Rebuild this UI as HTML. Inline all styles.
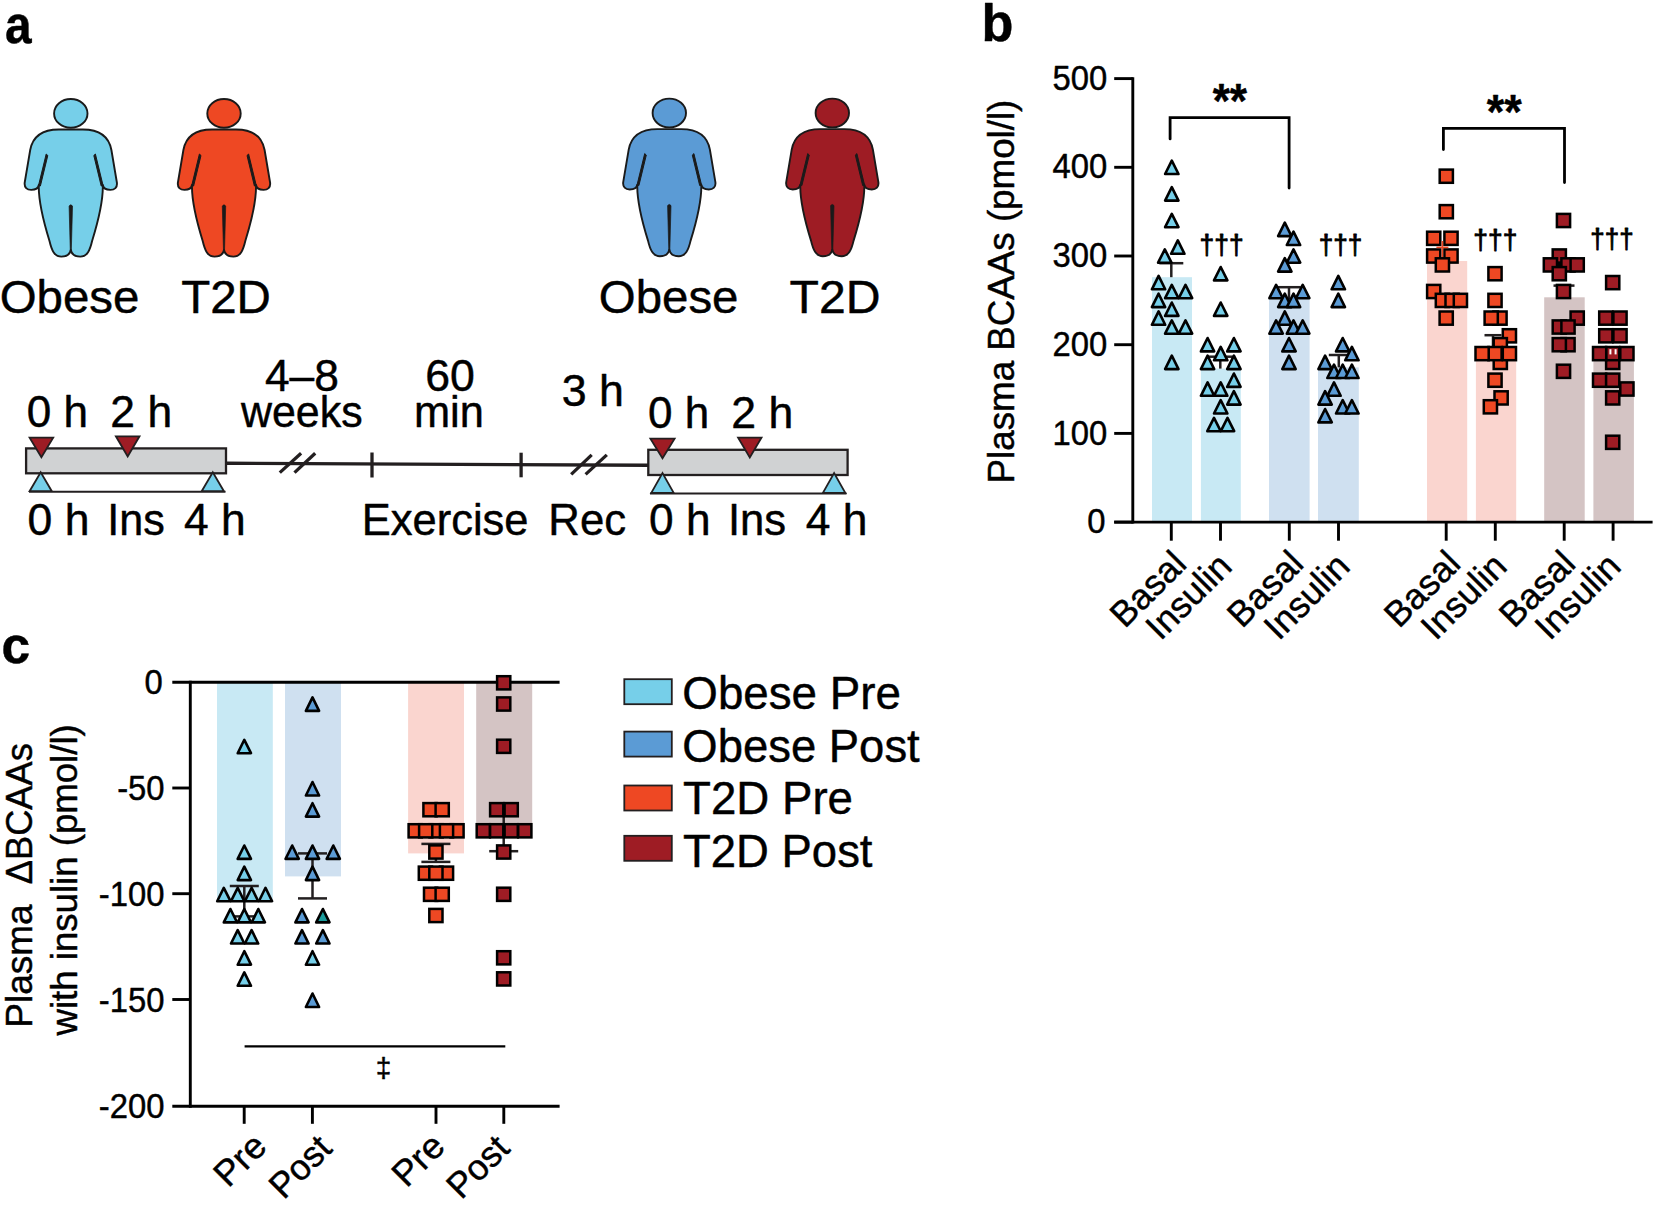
<!DOCTYPE html>
<html lang="en"><head><meta charset="utf-8"><title>Figure</title>
<style>
html,body{margin:0;padding:0;background:#fff;}
body{width:1654px;height:1207px;overflow:hidden;}
svg{display:block;font-family:"Liberation Sans", Arial, Helvetica, sans-serif;fill:#000;}
text{stroke:#000;stroke-width:0.45px;stroke-linejoin:round;}
</style></head><body>
<svg width="1654" height="1207" viewBox="0 0 1654 1207">
<rect width="1654" height="1207" fill="#fff"/>
<text transform="translate(4.90 43.2) scale(0.9197 1)" font-size="52" font-weight="bold" style="font-kerning:none">a</text>
<text transform="translate(981.56 41.2) scale(1.0037 1)" font-size="52" font-weight="bold" style="font-kerning:none">b</text>
<text transform="translate(1.49 663.2) scale(0.9895 1)" font-size="52" font-weight="bold" style="font-kerning:none">c</text>
<g transform="translate(70.8 0.0)"><path d="M0 129.5 L-12 129.5 C-28 129.5 -38 136 -40.6 150 L-46 182 C-47 187.6 -43.5 189.9 -39.6 189.9 C-35.3 189.9 -32.4 188 -32 185 C-32.4 200 -27.5 221 -21.3 241 C-19.2 250 -16.5 256.6 -9.5 256.6 C-4 256.6 -0.8 254 0 250 C0.8 254 4 256.6 9.5 256.6 C16.5 256.6 19.2 250 21.3 241 C27.5 221 32.4 200 32 185 C32.4 188 35.3 189.9 39.6 189.9 C43.5 189.9 47 187.6 46 182 L40.6 150 C38 136 28 129.5 12 129.5 Z" fill="#76cfe9" stroke="#1a1a1a" stroke-width="1.9" stroke-linejoin="round"/><ellipse cx="0" cy="113.4" rx="16.7" ry="14.4" fill="#76cfe9" stroke="#1a1a1a" stroke-width="1.9"/><path d="M-24.6 154 L-23 155.5 L-30.4 186 L-32.4 186 Z" fill="#1a1a1a" stroke="#1a1a1a" stroke-width="1" stroke-linejoin="round"/><path d="M24.6 154 L23 155.5 L30.4 186 L32.4 186 Z" fill="#1a1a1a" stroke="#1a1a1a" stroke-width="1" stroke-linejoin="round"/><path d="M-1.7 206 Q0 203.6 1.7 206 L0.5 251 L-0.5 251 Z" fill="#1a1a1a" stroke="#1a1a1a" stroke-width="0.7" stroke-linejoin="round"/></g>
<g transform="translate(224 0.0)"><path d="M0 129.5 L-12 129.5 C-28 129.5 -38 136 -40.6 150 L-46 182 C-47 187.6 -43.5 189.9 -39.6 189.9 C-35.3 189.9 -32.4 188 -32 185 C-32.4 200 -27.5 221 -21.3 241 C-19.2 250 -16.5 256.6 -9.5 256.6 C-4 256.6 -0.8 254 0 250 C0.8 254 4 256.6 9.5 256.6 C16.5 256.6 19.2 250 21.3 241 C27.5 221 32.4 200 32 185 C32.4 188 35.3 189.9 39.6 189.9 C43.5 189.9 47 187.6 46 182 L40.6 150 C38 136 28 129.5 12 129.5 Z" fill="#ee4823" stroke="#1a1a1a" stroke-width="1.9" stroke-linejoin="round"/><ellipse cx="0" cy="113.4" rx="16.7" ry="14.4" fill="#ee4823" stroke="#1a1a1a" stroke-width="1.9"/><path d="M-24.6 154 L-23 155.5 L-30.4 186 L-32.4 186 Z" fill="#1a1a1a" stroke="#1a1a1a" stroke-width="1" stroke-linejoin="round"/><path d="M24.6 154 L23 155.5 L30.4 186 L32.4 186 Z" fill="#1a1a1a" stroke="#1a1a1a" stroke-width="1" stroke-linejoin="round"/><path d="M-1.7 206 Q0 203.6 1.7 206 L0.5 251 L-0.5 251 Z" fill="#1a1a1a" stroke="#1a1a1a" stroke-width="0.7" stroke-linejoin="round"/></g>
<g transform="translate(669.3 -0.4)"><path d="M0 129.5 L-12 129.5 C-28 129.5 -38 136 -40.6 150 L-46 182 C-47 187.6 -43.5 189.9 -39.6 189.9 C-35.3 189.9 -32.4 188 -32 185 C-32.4 200 -27.5 221 -21.3 241 C-19.2 250 -16.5 256.6 -9.5 256.6 C-4 256.6 -0.8 254 0 250 C0.8 254 4 256.6 9.5 256.6 C16.5 256.6 19.2 250 21.3 241 C27.5 221 32.4 200 32 185 C32.4 188 35.3 189.9 39.6 189.9 C43.5 189.9 47 187.6 46 182 L40.6 150 C38 136 28 129.5 12 129.5 Z" fill="#5b9bd5" stroke="#1a1a1a" stroke-width="1.9" stroke-linejoin="round"/><ellipse cx="0" cy="113.4" rx="16.7" ry="14.4" fill="#5b9bd5" stroke="#1a1a1a" stroke-width="1.9"/><path d="M-24.6 154 L-23 155.5 L-30.4 186 L-32.4 186 Z" fill="#1a1a1a" stroke="#1a1a1a" stroke-width="1" stroke-linejoin="round"/><path d="M24.6 154 L23 155.5 L30.4 186 L32.4 186 Z" fill="#1a1a1a" stroke="#1a1a1a" stroke-width="1" stroke-linejoin="round"/><path d="M-1.7 206 Q0 203.6 1.7 206 L0.5 251 L-0.5 251 Z" fill="#1a1a1a" stroke="#1a1a1a" stroke-width="0.7" stroke-linejoin="round"/></g>
<g transform="translate(832.3 -0.4)"><path d="M0 129.5 L-12 129.5 C-28 129.5 -38 136 -40.6 150 L-46 182 C-47 187.6 -43.5 189.9 -39.6 189.9 C-35.3 189.9 -32.4 188 -32 185 C-32.4 200 -27.5 221 -21.3 241 C-19.2 250 -16.5 256.6 -9.5 256.6 C-4 256.6 -0.8 254 0 250 C0.8 254 4 256.6 9.5 256.6 C16.5 256.6 19.2 250 21.3 241 C27.5 221 32.4 200 32 185 C32.4 188 35.3 189.9 39.6 189.9 C43.5 189.9 47 187.6 46 182 L40.6 150 C38 136 28 129.5 12 129.5 Z" fill="#9e1c24" stroke="#1a1a1a" stroke-width="1.9" stroke-linejoin="round"/><ellipse cx="0" cy="113.4" rx="16.7" ry="14.4" fill="#9e1c24" stroke="#1a1a1a" stroke-width="1.9"/><path d="M-24.6 154 L-23 155.5 L-30.4 186 L-32.4 186 Z" fill="#1a1a1a" stroke="#1a1a1a" stroke-width="1" stroke-linejoin="round"/><path d="M24.6 154 L23 155.5 L30.4 186 L32.4 186 Z" fill="#1a1a1a" stroke="#1a1a1a" stroke-width="1" stroke-linejoin="round"/><path d="M-1.7 206 Q0 203.6 1.7 206 L0.5 251 L-0.5 251 Z" fill="#1a1a1a" stroke="#1a1a1a" stroke-width="0.7" stroke-linejoin="round"/></g>
<text transform="translate(-0.35 312.7) scale(1.0092 1)" font-size="47" font-weight="normal" style="font-kerning:none">Obese</text>
<text transform="translate(181.13 312.7) scale(1.0107 1)" font-size="47" font-weight="normal" style="font-kerning:none">T2D</text>
<text transform="translate(598.86 312.6) scale(1.0085 1)" font-size="47" font-weight="normal" style="font-kerning:none">Obese</text>
<text transform="translate(789.52 312.6) scale(1.0247 1)" font-size="47" font-weight="normal" style="font-kerning:none">T2D</text>
<line x1="226.7" y1="463.2" x2="648.0" y2="465.3" stroke="#231f20" stroke-width="3.4" stroke-linecap="butt"/>
<rect x="26.1" y="448.4" width="199.9" height="24.9" fill="#d0d2d3" stroke="#231f20" stroke-width="2.3"/>
<rect x="648.3" y="449.8" width="199.3" height="25.2" fill="#d0d2d3" stroke="#231f20" stroke-width="2.3"/>
<line x1="29.0" y1="491.8" x2="225.5" y2="491.8" stroke="#231f20" stroke-width="2.0" stroke-linecap="butt"/>
<path d="M29.6 437.7L53.2 437.7L41.4 457.2Z" fill="#9e1c24" stroke="#231f20" stroke-width="1.8" stroke-linejoin="miter"/>
<path d="M115.9 436.3L139.5 436.3L127.7 456.5Z" fill="#9e1c24" stroke="#231f20" stroke-width="1.8" stroke-linejoin="miter"/>
<path d="M29.6 491.2L51.8 491.2L40.7 472.2Z" fill="#76cfe9" stroke="#231f20" stroke-width="1.8" stroke-linejoin="miter"/>
<path d="M201.7 491.2L223.9 491.2L212.8 472.2Z" fill="#76cfe9" stroke="#231f20" stroke-width="1.8" stroke-linejoin="miter"/>
<line x1="650.0" y1="493.5" x2="846.5" y2="493.5" stroke="#231f20" stroke-width="2.0" stroke-linecap="butt"/>
<path d="M650.4 438.6L674.6 438.6L662.5 458.3Z" fill="#9e1c24" stroke="#231f20" stroke-width="1.8" stroke-linejoin="miter"/>
<path d="M738.1 437.7L761.5 437.7L749.8 457.4Z" fill="#9e1c24" stroke="#231f20" stroke-width="1.8" stroke-linejoin="miter"/>
<path d="M651.2 493L673.8 493L662.5 473Z" fill="#76cfe9" stroke="#231f20" stroke-width="1.8" stroke-linejoin="miter"/>
<path d="M822.8 493L845.4 493L834.1 473Z" fill="#76cfe9" stroke="#231f20" stroke-width="1.8" stroke-linejoin="miter"/>
<line x1="279.8" y1="472.6" x2="301.1" y2="453.3" stroke="#231f20" stroke-width="3.3" stroke-linecap="butt"/>
<line x1="294.5" y1="472.6" x2="315.2" y2="453.3" stroke="#231f20" stroke-width="3.3" stroke-linecap="butt"/>
<line x1="571.2" y1="474.4" x2="591.7" y2="454.9" stroke="#231f20" stroke-width="3.3" stroke-linecap="butt"/>
<line x1="585.6" y1="474.4" x2="606.8" y2="454.9" stroke="#231f20" stroke-width="3.3" stroke-linecap="butt"/>
<line x1="372.0" y1="452.5" x2="372.0" y2="477.5" stroke="#231f20" stroke-width="3.3" stroke-linecap="butt"/>
<line x1="521.1" y1="452.7" x2="521.1" y2="477.3" stroke="#231f20" stroke-width="3.3" stroke-linecap="butt"/>
<text transform="translate(26.78 427.3) scale(1.0019 1)" font-size="44" font-weight="normal" style="font-kerning:none">0 h</text>
<text transform="translate(110.36 427.3) scale(1.0108 1)" font-size="44" font-weight="normal" style="font-kerning:none">2 h</text>
<text transform="translate(264.98 390.6) scale(1.0072 1)" font-size="44" font-weight="normal" style="font-kerning:none">4–8</text>
<text transform="translate(240.96 427.3) scale(0.9757 1)" font-size="44" font-weight="normal" style="font-kerning:none">weeks</text>
<text transform="translate(425.24 390.6) scale(1.0136 1)" font-size="44" font-weight="normal" style="font-kerning:none">60</text>
<text transform="translate(413.92 427.3) scale(0.9859 1)" font-size="44" font-weight="normal" style="font-kerning:none">min</text>
<text transform="translate(561.80 406.0) scale(1.0171 1)" font-size="44" font-weight="normal" style="font-kerning:none">3 h</text>
<text transform="translate(648.08 428.0) scale(1.0002 1)" font-size="44" font-weight="normal" style="font-kerning:none">0 h</text>
<text transform="translate(731.36 428.0) scale(1.0143 1)" font-size="44" font-weight="normal" style="font-kerning:none">2 h</text>
<text transform="translate(27.56 534.8) scale(1.0125 1)" font-size="44" font-weight="normal" style="font-kerning:none">0 h</text>
<text transform="translate(107.32 534.8) scale(0.9803 1)" font-size="44" font-weight="normal" style="font-kerning:none">Ins</text>
<text transform="translate(183.88 534.8) scale(1.0087 1)" font-size="44" font-weight="normal" style="font-kerning:none">4 h</text>
<text transform="translate(361.83 535.0) scale(0.9880 1)" font-size="44" font-weight="normal" style="font-kerning:none">Exercise</text>
<text transform="translate(548.31 535.0) scale(0.9949 1)" font-size="44" font-weight="normal" style="font-kerning:none">Rec</text>
<text transform="translate(649.07 535.4) scale(1.0037 1)" font-size="44" font-weight="normal" style="font-kerning:none">0 h</text>
<text transform="translate(727.97 535.4) scale(0.9916 1)" font-size="44" font-weight="normal" style="font-kerning:none">Ins</text>
<text transform="translate(805.68 535.4) scale(1.0087 1)" font-size="44" font-weight="normal" style="font-kerning:none">4 h</text>
<rect x="1152" y="277.2" width="40.0" height="244.9" fill="#c8e9f4"/>
<rect x="1200.9" y="368.6" width="39.9" height="153.5" fill="#c8e9f4"/>
<rect x="1269" y="299" width="40.6" height="223.1" fill="#cfe0f0"/>
<rect x="1318" y="367.4" width="40.8" height="154.7" fill="#cfe0f0"/>
<rect x="1427" y="261" width="40.2" height="261.1" fill="#fad5cf"/>
<rect x="1475.9" y="355" width="40.3" height="167.1" fill="#fad5cf"/>
<rect x="1544.2" y="297.3" width="40.5" height="224.8" fill="#d4c4c4"/>
<rect x="1593.4" y="354" width="40.5" height="168.1" fill="#d4c4c4"/>
<line x1="1132.8" y1="77.2" x2="1132.8" y2="523.6" stroke="#000" stroke-width="2.9" stroke-linecap="butt"/>
<line x1="1114.2" y1="522.1" x2="1652.6" y2="522.1" stroke="#000" stroke-width="2.9" stroke-linecap="butt"/>
<line x1="1114.2" y1="522.1" x2="1132.8" y2="522.1" stroke="#000" stroke-width="2.9" stroke-linecap="butt"/>
<text transform="translate(1087.32 533.2) scale(0.9517 1)" font-size="34.5" font-weight="normal" style="font-kerning:none">0</text>
<line x1="1114.2" y1="433.4" x2="1132.8" y2="433.4" stroke="#000" stroke-width="2.9" stroke-linecap="butt"/>
<text transform="translate(1052.40 444.5) scale(0.9517 1)" font-size="34.5" font-weight="normal" style="font-kerning:none">100</text>
<line x1="1114.2" y1="344.7" x2="1132.8" y2="344.7" stroke="#000" stroke-width="2.9" stroke-linecap="butt"/>
<text transform="translate(1052.40 355.8) scale(0.9517 1)" font-size="34.5" font-weight="normal" style="font-kerning:none">200</text>
<line x1="1114.2" y1="256.0" x2="1132.8" y2="256.0" stroke="#000" stroke-width="2.9" stroke-linecap="butt"/>
<text transform="translate(1052.40 267.1) scale(0.9517 1)" font-size="34.5" font-weight="normal" style="font-kerning:none">300</text>
<line x1="1114.2" y1="167.3" x2="1132.8" y2="167.3" stroke="#000" stroke-width="2.9" stroke-linecap="butt"/>
<text transform="translate(1052.40 178.4) scale(0.9517 1)" font-size="34.5" font-weight="normal" style="font-kerning:none">400</text>
<line x1="1114.2" y1="78.6" x2="1132.8" y2="78.6" stroke="#000" stroke-width="2.9" stroke-linecap="butt"/>
<text transform="translate(1052.40 89.7) scale(0.9517 1)" font-size="34.5" font-weight="normal" style="font-kerning:none">500</text>
<line x1="1171.3" y1="522.1" x2="1171.3" y2="540.7" stroke="#000" stroke-width="2.9" stroke-linecap="butt"/>
<line x1="1220.5" y1="522.1" x2="1220.5" y2="540.7" stroke="#000" stroke-width="2.9" stroke-linecap="butt"/>
<line x1="1289.3" y1="522.1" x2="1289.3" y2="540.7" stroke="#000" stroke-width="2.9" stroke-linecap="butt"/>
<line x1="1338.5" y1="522.1" x2="1338.5" y2="540.7" stroke="#000" stroke-width="2.9" stroke-linecap="butt"/>
<line x1="1446.2" y1="522.1" x2="1446.2" y2="540.7" stroke="#000" stroke-width="2.9" stroke-linecap="butt"/>
<line x1="1495.3" y1="522.1" x2="1495.3" y2="540.7" stroke="#000" stroke-width="2.9" stroke-linecap="butt"/>
<line x1="1564.2" y1="522.1" x2="1564.2" y2="540.7" stroke="#000" stroke-width="2.9" stroke-linecap="butt"/>
<line x1="1613.1" y1="522.1" x2="1613.1" y2="540.7" stroke="#000" stroke-width="2.9" stroke-linecap="butt"/>
<text transform="translate(1124.84 629.36) rotate(-45.00) scale(0.9966 1)" font-size="36" font-weight="normal" style="font-kerning:none">Basal</text>
<text transform="translate(1242.04 629.16) rotate(-45.00) scale(0.9966 1)" font-size="36" font-weight="normal" style="font-kerning:none">Basal</text>
<text transform="translate(1398.94 629.16) rotate(-45.00) scale(0.9966 1)" font-size="36" font-weight="normal" style="font-kerning:none">Basal</text>
<text transform="translate(1513.94 629.16) rotate(-45.00) scale(0.9966 1)" font-size="36" font-weight="normal" style="font-kerning:none">Basal</text>
<text transform="translate(1160.61 641.59) rotate(-45.00) scale(0.9939 1)" font-size="36" font-weight="normal" style="font-kerning:none">Insulin</text>
<text transform="translate(1278.81 641.59) rotate(-45.00) scale(0.9939 1)" font-size="36" font-weight="normal" style="font-kerning:none">Insulin</text>
<text transform="translate(1435.71 641.59) rotate(-45.00) scale(0.9939 1)" font-size="36" font-weight="normal" style="font-kerning:none">Insulin</text>
<text transform="translate(1549.71 641.59) rotate(-45.00) scale(0.9939 1)" font-size="36" font-weight="normal" style="font-kerning:none">Insulin</text>
<text transform="translate(1013.60 483.41) rotate(-90.00) scale(0.9932 1)" font-size="37" font-weight="normal" style="font-kerning:none">Plasma BCAAs (pmol/l)</text>
<path d="M1170.1 138.9V117.6H1289.1V188.1" fill="none" stroke="#000" stroke-width="2.8" stroke-linecap="round" stroke-linejoin="miter"/>
<path d="M1443.4 149.5V128.4H1564.5V182.6" fill="none" stroke="#000" stroke-width="2.8" stroke-linecap="round" stroke-linejoin="miter"/>
<text transform="translate(1212.67 117.2) scale(0.9201 1)" font-size="48" font-weight="bold" style="font-kerning:none">**</text>
<text transform="translate(1486.87 127.9) scale(0.9362 1)" font-size="48" font-weight="bold" style="font-kerning:none">**</text>
<text transform="translate(1199.62 253.9) scale(0.9428 1)" font-size="28" font-weight="normal" style="stroke-width:0.9px;font-kerning:none">†††</text>
<text transform="translate(1318.63 253.9) scale(0.9358 1)" font-size="28" font-weight="normal" style="stroke-width:0.9px;font-kerning:none">†††</text>
<text transform="translate(1473.32 249.0) scale(0.9428 1)" font-size="28" font-weight="normal" style="stroke-width:0.9px;font-kerning:none">†††</text>
<text transform="translate(1590.35 248.4) scale(0.9265 1)" font-size="28" font-weight="normal" style="stroke-width:0.9px;font-kerning:none">†††</text>
<line x1="1171.3" y1="263.2" x2="1171.3" y2="277.2" stroke="#231f20" stroke-width="2.5" stroke-linecap="butt"/><line x1="1159.3" y1="263.2" x2="1183.3" y2="263.2" stroke="#231f20" stroke-width="2.5" stroke-linecap="butt"/>
<path d="M1165.1 174.0L1171.8 160.6L1178.5 174.0Z" fill="#76cfe9" stroke="#000" stroke-width="2.6" stroke-linejoin="round"/>
<path d="M1165.1 200.6L1171.8 187.2L1178.5 200.6Z" fill="#76cfe9" stroke="#000" stroke-width="2.6" stroke-linejoin="round"/>
<path d="M1165.1 227.2L1171.8 213.8L1178.5 227.2Z" fill="#76cfe9" stroke="#000" stroke-width="2.6" stroke-linejoin="round"/>
<path d="M1158.1 262.7L1164.8 249.3L1171.5 262.7Z" fill="#76cfe9" stroke="#000" stroke-width="2.6" stroke-linejoin="round"/>
<path d="M1171.1 253.8L1177.8 240.4L1184.5 253.8Z" fill="#76cfe9" stroke="#000" stroke-width="2.6" stroke-linejoin="round"/>
<path d="M1151.9 289.3L1158.6 275.9L1165.2 289.3Z" fill="#76cfe9" stroke="#000" stroke-width="2.6" stroke-linejoin="round"/>
<path d="M1165.1 298.2L1171.8 284.8L1178.5 298.2Z" fill="#76cfe9" stroke="#000" stroke-width="2.6" stroke-linejoin="round"/>
<path d="M1178.8 298.2L1185.5 284.8L1192.2 298.2Z" fill="#76cfe9" stroke="#000" stroke-width="2.6" stroke-linejoin="round"/>
<path d="M1151.9 307.1L1158.6 293.7L1165.2 307.1Z" fill="#76cfe9" stroke="#000" stroke-width="2.6" stroke-linejoin="round"/>
<path d="M1165.1 315.9L1171.8 302.5L1178.5 315.9Z" fill="#76cfe9" stroke="#000" stroke-width="2.6" stroke-linejoin="round"/>
<path d="M1151.9 324.8L1158.6 311.4L1165.2 324.8Z" fill="#76cfe9" stroke="#000" stroke-width="2.6" stroke-linejoin="round"/>
<path d="M1165.1 333.7L1171.8 320.3L1178.5 333.7Z" fill="#76cfe9" stroke="#000" stroke-width="2.6" stroke-linejoin="round"/>
<path d="M1178.8 333.7L1185.5 320.3L1192.2 333.7Z" fill="#76cfe9" stroke="#000" stroke-width="2.6" stroke-linejoin="round"/>
<path d="M1165.1 369.1L1171.8 355.7L1178.5 369.1Z" fill="#76cfe9" stroke="#000" stroke-width="2.6" stroke-linejoin="round"/>
<line x1="1220.3" y1="356.7" x2="1220.3" y2="368.6" stroke="#231f20" stroke-width="2.5" stroke-linecap="butt"/><line x1="1207.8" y1="356.7" x2="1232.8" y2="356.7" stroke="#231f20" stroke-width="2.5" stroke-linecap="butt"/>
<path d="M1214.0 280.4L1220.7 267.0L1227.4 280.4Z" fill="#76cfe9" stroke="#000" stroke-width="2.6" stroke-linejoin="round"/>
<path d="M1214.0 315.9L1220.7 302.5L1227.4 315.9Z" fill="#76cfe9" stroke="#000" stroke-width="2.6" stroke-linejoin="round"/>
<path d="M1200.9 351.4L1207.6 338.0L1214.2 351.4Z" fill="#76cfe9" stroke="#000" stroke-width="2.6" stroke-linejoin="round"/>
<path d="M1227.2 351.4L1233.9 338.0L1240.6 351.4Z" fill="#76cfe9" stroke="#000" stroke-width="2.6" stroke-linejoin="round"/>
<path d="M1200.9 369.1L1207.6 355.7L1214.2 369.1Z" fill="#76cfe9" stroke="#000" stroke-width="2.6" stroke-linejoin="round"/>
<path d="M1227.2 369.1L1233.9 355.7L1240.6 369.1Z" fill="#76cfe9" stroke="#000" stroke-width="2.6" stroke-linejoin="round"/>
<path d="M1214.0 360.3L1220.7 346.9L1227.4 360.3Z" fill="#76cfe9" stroke="#000" stroke-width="2.6" stroke-linejoin="round"/>
<path d="M1227.2 386.9L1233.9 373.5L1240.6 386.9Z" fill="#76cfe9" stroke="#000" stroke-width="2.6" stroke-linejoin="round"/>
<path d="M1200.9 395.8L1207.6 382.4L1214.2 395.8Z" fill="#76cfe9" stroke="#000" stroke-width="2.6" stroke-linejoin="round"/>
<path d="M1214.0 395.8L1220.7 382.4L1227.4 395.8Z" fill="#76cfe9" stroke="#000" stroke-width="2.6" stroke-linejoin="round"/>
<path d="M1227.2 404.6L1233.9 391.2L1240.6 404.6Z" fill="#76cfe9" stroke="#000" stroke-width="2.6" stroke-linejoin="round"/>
<path d="M1214.0 413.5L1220.7 400.1L1227.4 413.5Z" fill="#76cfe9" stroke="#000" stroke-width="2.6" stroke-linejoin="round"/>
<path d="M1207.3 431.2L1214.0 417.8L1220.7 431.2Z" fill="#76cfe9" stroke="#000" stroke-width="2.6" stroke-linejoin="round"/>
<path d="M1220.8 431.2L1227.5 417.8L1234.2 431.2Z" fill="#76cfe9" stroke="#000" stroke-width="2.6" stroke-linejoin="round"/>
<line x1="1289.0" y1="287.2" x2="1289.0" y2="299.0" stroke="#231f20" stroke-width="2.5" stroke-linecap="butt"/><line x1="1277.2" y1="287.2" x2="1300.8" y2="287.2" stroke="#231f20" stroke-width="2.5" stroke-linecap="butt"/>
<path d="M1278.1 236.1L1284.8 222.7L1291.5 236.1Z" fill="#5b9bd5" stroke="#000" stroke-width="2.6" stroke-linejoin="round"/>
<path d="M1286.8 245.0L1293.5 231.6L1300.2 245.0Z" fill="#5b9bd5" stroke="#000" stroke-width="2.6" stroke-linejoin="round"/>
<path d="M1286.8 262.7L1293.5 249.3L1300.2 262.7Z" fill="#5b9bd5" stroke="#000" stroke-width="2.6" stroke-linejoin="round"/>
<path d="M1278.1 271.6L1284.8 258.2L1291.5 271.6Z" fill="#5b9bd5" stroke="#000" stroke-width="2.6" stroke-linejoin="round"/>
<path d="M1269.4 298.2L1276.1 284.8L1282.8 298.2Z" fill="#5b9bd5" stroke="#000" stroke-width="2.6" stroke-linejoin="round"/>
<path d="M1296.0 298.2L1302.7 284.8L1309.4 298.2Z" fill="#5b9bd5" stroke="#000" stroke-width="2.6" stroke-linejoin="round"/>
<path d="M1278.1 307.1L1284.8 293.7L1291.5 307.1Z" fill="#5b9bd5" stroke="#000" stroke-width="2.6" stroke-linejoin="round"/>
<path d="M1286.8 307.1L1293.5 293.7L1300.2 307.1Z" fill="#5b9bd5" stroke="#000" stroke-width="2.6" stroke-linejoin="round"/>
<path d="M1278.1 324.8L1284.8 311.4L1291.5 324.8Z" fill="#5b9bd5" stroke="#000" stroke-width="2.6" stroke-linejoin="round"/>
<path d="M1269.4 333.7L1276.1 320.3L1282.8 333.7Z" fill="#5b9bd5" stroke="#000" stroke-width="2.6" stroke-linejoin="round"/>
<path d="M1286.8 333.7L1293.5 320.3L1300.2 333.7Z" fill="#5b9bd5" stroke="#000" stroke-width="2.6" stroke-linejoin="round"/>
<path d="M1296.0 333.7L1302.7 320.3L1309.4 333.7Z" fill="#5b9bd5" stroke="#000" stroke-width="2.6" stroke-linejoin="round"/>
<path d="M1282.3 351.4L1289.0 338.0L1295.7 351.4Z" fill="#5b9bd5" stroke="#000" stroke-width="2.6" stroke-linejoin="round"/>
<path d="M1282.3 369.1L1289.0 355.7L1295.7 369.1Z" fill="#5b9bd5" stroke="#000" stroke-width="2.6" stroke-linejoin="round"/>
<line x1="1338.8" y1="355.0" x2="1338.8" y2="367.4" stroke="#231f20" stroke-width="2.5" stroke-linecap="butt"/><line x1="1328.8" y1="355.0" x2="1348.8" y2="355.0" stroke="#231f20" stroke-width="2.5" stroke-linecap="butt"/>
<path d="M1331.6 289.3L1338.3 275.9L1345.0 289.3Z" fill="#5b9bd5" stroke="#000" stroke-width="2.6" stroke-linejoin="round"/>
<path d="M1331.6 307.1L1338.3 293.7L1345.0 307.1Z" fill="#5b9bd5" stroke="#000" stroke-width="2.6" stroke-linejoin="round"/>
<path d="M1336.0 351.4L1342.7 338.0L1349.4 351.4Z" fill="#5b9bd5" stroke="#000" stroke-width="2.6" stroke-linejoin="round"/>
<path d="M1345.2 360.3L1351.9 346.9L1358.6 360.3Z" fill="#5b9bd5" stroke="#000" stroke-width="2.6" stroke-linejoin="round"/>
<path d="M1318.4 369.1L1325.1 355.7L1331.8 369.1Z" fill="#5b9bd5" stroke="#000" stroke-width="2.6" stroke-linejoin="round"/>
<path d="M1327.3 378.0L1334.0 364.6L1340.7 378.0Z" fill="#5b9bd5" stroke="#000" stroke-width="2.6" stroke-linejoin="round"/>
<path d="M1336.0 378.0L1342.7 364.6L1349.4 378.0Z" fill="#5b9bd5" stroke="#000" stroke-width="2.6" stroke-linejoin="round"/>
<path d="M1345.2 378.0L1351.9 364.6L1358.6 378.0Z" fill="#5b9bd5" stroke="#000" stroke-width="2.6" stroke-linejoin="round"/>
<path d="M1327.3 395.8L1334.0 382.4L1340.7 395.8Z" fill="#5b9bd5" stroke="#000" stroke-width="2.6" stroke-linejoin="round"/>
<path d="M1318.4 404.6L1325.1 391.2L1331.8 404.6Z" fill="#5b9bd5" stroke="#000" stroke-width="2.6" stroke-linejoin="round"/>
<path d="M1336.0 413.5L1342.7 400.1L1349.4 413.5Z" fill="#5b9bd5" stroke="#000" stroke-width="2.6" stroke-linejoin="round"/>
<path d="M1345.2 413.5L1351.9 400.1L1358.6 413.5Z" fill="#5b9bd5" stroke="#000" stroke-width="2.6" stroke-linejoin="round"/>
<path d="M1318.4 422.4L1325.1 409.0L1331.8 422.4Z" fill="#5b9bd5" stroke="#000" stroke-width="2.6" stroke-linejoin="round"/>
<rect x="1439.7" y="169.6" width="13.2" height="13.2" fill="#ee4823" stroke="#000" stroke-width="2.5"/>
<rect x="1439.7" y="205.1" width="13.2" height="13.2" fill="#ee4823" stroke="#000" stroke-width="2.5"/>
<rect x="1427.1" y="231.7" width="13.2" height="13.2" fill="#ee4823" stroke="#000" stroke-width="2.5"/>
<rect x="1444.4" y="231.7" width="13.2" height="13.2" fill="#ee4823" stroke="#000" stroke-width="2.5"/>
<rect x="1427.1" y="249.4" width="13.2" height="13.2" fill="#ee4823" stroke="#000" stroke-width="2.5"/>
<rect x="1444.4" y="249.4" width="13.2" height="13.2" fill="#ee4823" stroke="#000" stroke-width="2.5"/>
<line x1="1442.4" y1="247.4" x2="1442.4" y2="261.0" stroke="#ee4823" stroke-width="1.6" stroke-linecap="butt"/><line x1="1436.4" y1="247.4" x2="1448.4" y2="247.4" stroke="#ee4823" stroke-width="1.6" stroke-linecap="butt"/>
<line x1="1442.4" y1="241.0" x2="1442.4" y2="248.0" stroke="#ee4823" stroke-width="1.6" stroke-linecap="butt"/>
<rect x="1435.8" y="258.3" width="13.2" height="13.2" fill="#ee4823" stroke="#000" stroke-width="2.5"/>
<rect x="1427.1" y="284.9" width="13.2" height="13.2" fill="#ee4823" stroke="#000" stroke-width="2.5"/>
<rect x="1435.8" y="293.8" width="13.2" height="13.2" fill="#ee4823" stroke="#000" stroke-width="2.5"/>
<rect x="1445.5" y="293.8" width="13.2" height="13.2" fill="#ee4823" stroke="#000" stroke-width="2.5"/>
<rect x="1453.8" y="293.8" width="13.2" height="13.2" fill="#ee4823" stroke="#000" stroke-width="2.5"/>
<rect x="1439.6" y="311.5" width="13.2" height="13.2" fill="#ee4823" stroke="#000" stroke-width="2.5"/>
<line x1="1493.0" y1="335.2" x2="1493.0" y2="355.0" stroke="#231f20" stroke-width="2.5" stroke-linecap="butt"/><line x1="1484.5" y1="335.2" x2="1501.5" y2="335.2" stroke="#231f20" stroke-width="2.5" stroke-linecap="butt"/>
<rect x="1488.4" y="267.1" width="13.2" height="13.2" fill="#ee4823" stroke="#000" stroke-width="2.5"/>
<rect x="1488.4" y="293.8" width="13.2" height="13.2" fill="#ee4823" stroke="#000" stroke-width="2.5"/>
<rect x="1493.4" y="311.5" width="13.2" height="13.2" fill="#ee4823" stroke="#000" stroke-width="2.5"/>
<rect x="1484.6" y="311.5" width="13.2" height="13.2" fill="#ee4823" stroke="#000" stroke-width="2.5"/>
<rect x="1502.8" y="329.2" width="13.2" height="13.2" fill="#ee4823" stroke="#000" stroke-width="2.5"/>
<rect x="1493.7" y="338.1" width="13.2" height="13.2" fill="#ee4823" stroke="#000" stroke-width="2.5"/>
<rect x="1493.7" y="355.8" width="13.2" height="13.2" fill="#ee4823" stroke="#000" stroke-width="2.5"/>
<rect x="1488.4" y="347.0" width="13.2" height="13.2" fill="#ee4823" stroke="#000" stroke-width="2.5"/>
<rect x="1475.5" y="347.0" width="13.2" height="13.2" fill="#ee4823" stroke="#000" stroke-width="2.5"/>
<rect x="1502.8" y="347.0" width="13.2" height="13.2" fill="#ee4823" stroke="#000" stroke-width="2.5"/>
<rect x="1488.4" y="373.6" width="13.2" height="13.2" fill="#ee4823" stroke="#000" stroke-width="2.5"/>
<rect x="1494.5" y="391.3" width="13.2" height="13.2" fill="#ee4823" stroke="#000" stroke-width="2.5"/>
<rect x="1483.8" y="400.2" width="13.2" height="13.2" fill="#ee4823" stroke="#000" stroke-width="2.5"/>
<line x1="1564.0" y1="285.6" x2="1564.0" y2="297.3" stroke="#231f20" stroke-width="2.5" stroke-linecap="butt"/><line x1="1553.5" y1="285.6" x2="1574.5" y2="285.6" stroke="#231f20" stroke-width="2.5" stroke-linecap="butt"/>
<rect x="1556.9" y="213.9" width="13.2" height="13.2" fill="#9e1c24" stroke="#000" stroke-width="2.5"/>
<rect x="1552.7" y="249.4" width="13.2" height="13.2" fill="#9e1c24" stroke="#000" stroke-width="2.5"/>
<rect x="1561.4" y="258.3" width="13.2" height="13.2" fill="#9e1c24" stroke="#000" stroke-width="2.5"/>
<rect x="1543.8" y="258.3" width="13.2" height="13.2" fill="#9e1c24" stroke="#000" stroke-width="2.5"/>
<rect x="1570.6" y="258.3" width="13.2" height="13.2" fill="#9e1c24" stroke="#000" stroke-width="2.5"/>
<rect x="1552.7" y="267.1" width="13.2" height="13.2" fill="#9e1c24" stroke="#000" stroke-width="2.5"/>
<rect x="1556.9" y="284.9" width="13.2" height="13.2" fill="#9e1c24" stroke="#000" stroke-width="2.5"/>
<rect x="1570.6" y="311.5" width="13.2" height="13.2" fill="#9e1c24" stroke="#000" stroke-width="2.5"/>
<rect x="1552.7" y="320.4" width="13.2" height="13.2" fill="#9e1c24" stroke="#000" stroke-width="2.5"/>
<rect x="1561.4" y="320.4" width="13.2" height="13.2" fill="#9e1c24" stroke="#000" stroke-width="2.5"/>
<rect x="1561.4" y="338.1" width="13.2" height="13.2" fill="#9e1c24" stroke="#000" stroke-width="2.5"/>
<rect x="1552.7" y="338.1" width="13.2" height="13.2" fill="#9e1c24" stroke="#000" stroke-width="2.5"/>
<rect x="1556.9" y="364.7" width="13.2" height="13.2" fill="#9e1c24" stroke="#000" stroke-width="2.5"/>
<rect x="1557" y="262.5" width="5" height="5" fill="#000"/>
<rect x="1606.1" y="276.0" width="13.2" height="13.2" fill="#9e1c24" stroke="#000" stroke-width="2.5"/>
<rect x="1599.2" y="311.5" width="13.2" height="13.2" fill="#9e1c24" stroke="#000" stroke-width="2.5"/>
<rect x="1613.4" y="311.5" width="13.2" height="13.2" fill="#9e1c24" stroke="#000" stroke-width="2.5"/>
<rect x="1599.2" y="329.2" width="13.2" height="13.2" fill="#9e1c24" stroke="#000" stroke-width="2.5"/>
<rect x="1613.4" y="329.2" width="13.2" height="13.2" fill="#9e1c24" stroke="#000" stroke-width="2.5"/>
<rect x="1606.1" y="355.8" width="13.2" height="13.2" fill="#9e1c24" stroke="#000" stroke-width="2.5"/>
<rect x="1606.1" y="347.0" width="13.2" height="13.2" fill="#9e1c24" stroke="#000" stroke-width="2.5"/>
<rect x="1593.0" y="347.0" width="13.2" height="13.2" fill="#9e1c24" stroke="#000" stroke-width="2.5"/>
<rect x="1620.3" y="347.0" width="13.2" height="13.2" fill="#9e1c24" stroke="#000" stroke-width="2.5"/>
<rect x="1593.0" y="373.6" width="13.2" height="13.2" fill="#9e1c24" stroke="#000" stroke-width="2.5"/>
<rect x="1606.1" y="373.6" width="13.2" height="13.2" fill="#9e1c24" stroke="#000" stroke-width="2.5"/>
<rect x="1620.3" y="382.4" width="13.2" height="13.2" fill="#9e1c24" stroke="#000" stroke-width="2.5"/>
<rect x="1606.1" y="391.3" width="13.2" height="13.2" fill="#9e1c24" stroke="#000" stroke-width="2.5"/>
<rect x="1606.1" y="435.7" width="13.2" height="13.2" fill="#9e1c24" stroke="#000" stroke-width="2.5"/>
<line x1="1610.4" y1="349.2" x2="1610.4" y2="354.4" stroke="#fff" stroke-width="2.0" stroke-linecap="butt"/>
<line x1="1615.6" y1="349.2" x2="1615.6" y2="354.4" stroke="#fff" stroke-width="2.0" stroke-linecap="butt"/>
<rect x="217" y="682.2" width="55.8" height="217.8" fill="#c8e9f4"/>
<rect x="285" y="682.2" width="56.0" height="194.2" fill="#cfe0f0"/>
<rect x="408.1" y="682.2" width="55.9" height="171.2" fill="#fad5cf"/>
<rect x="476.2" y="682.2" width="56.0" height="155.8" fill="#d4c4c4"/>
<line x1="190.3" y1="680.8" x2="190.3" y2="1107.8" stroke="#000" stroke-width="2.9" stroke-linecap="butt"/>
<line x1="172.3" y1="682.2" x2="559.6" y2="682.2" stroke="#000" stroke-width="2.9" stroke-linecap="butt"/>
<line x1="172.3" y1="1106.3" x2="559.6" y2="1106.3" stroke="#000" stroke-width="2.9" stroke-linecap="butt"/>
<text transform="translate(144.62 694.2) scale(0.9517 1)" font-size="34.5" font-weight="normal" style="font-kerning:none">0</text>
<line x1="172.3" y1="788.0" x2="190.3" y2="788.0" stroke="#000" stroke-width="2.9" stroke-linecap="butt"/>
<text transform="translate(117.13 800.0) scale(0.9517 1)" font-size="34.5" font-weight="normal" style="font-kerning:none">-50</text>
<line x1="172.3" y1="893.7" x2="190.3" y2="893.7" stroke="#000" stroke-width="2.9" stroke-linecap="butt"/>
<text transform="translate(98.86 905.7) scale(0.9517 1)" font-size="34.5" font-weight="normal" style="font-kerning:none">-100</text>
<line x1="172.3" y1="999.5" x2="190.3" y2="999.5" stroke="#000" stroke-width="2.9" stroke-linecap="butt"/>
<text transform="translate(98.86 1011.5) scale(0.9517 1)" font-size="34.5" font-weight="normal" style="font-kerning:none">-150</text>
<text transform="translate(98.86 1118.3) scale(0.9517 1)" font-size="34.5" font-weight="normal" style="font-kerning:none">-200</text>
<line x1="244.2" y1="1106.3" x2="244.2" y2="1123.8" stroke="#000" stroke-width="2.9" stroke-linecap="butt"/>
<line x1="312.4" y1="1106.3" x2="312.4" y2="1123.8" stroke="#000" stroke-width="2.9" stroke-linecap="butt"/>
<line x1="436.0" y1="1106.3" x2="436.0" y2="1123.8" stroke="#000" stroke-width="2.9" stroke-linecap="butt"/>
<line x1="503.8" y1="1106.3" x2="503.8" y2="1123.8" stroke="#000" stroke-width="2.9" stroke-linecap="butt"/>
<text transform="translate(32.00 1027.73) rotate(-90.00) scale(0.9863 1)" font-size="37.5" font-weight="normal" style="font-kerning:none">Plasma</text>
<text transform="translate(32.00 884.28) rotate(-90.00) scale(0.9676 1)" font-size="37.5" font-weight="normal" style="font-kerning:none">ΔBCAAs</text>
<text transform="translate(76.50 1035.45) rotate(-90.00) scale(0.9761 1)" font-size="37.5" font-weight="normal" style="font-kerning:none">with insulin (pmol/l)</text>
<line x1="244.6" y1="1046.4" x2="505.3" y2="1046.4" stroke="#000" stroke-width="2.2" stroke-linecap="butt"/>
<text x="383.6" y="1077.0" font-size="28" text-anchor="middle" font-weight="normal" >‡</text>
<text transform="translate(228.27 1188.73) rotate(-45.00) scale(1.0200 1)" font-size="36" font-weight="normal" style="font-kerning:none">Pre</text>
<text transform="translate(283.64 1200.46) rotate(-45.00) scale(0.9850 1)" font-size="36" font-weight="normal" style="font-kerning:none">Post</text>
<text transform="translate(406.47 1188.73) rotate(-45.00) scale(1.0200 1)" font-size="36" font-weight="normal" style="font-kerning:none">Pre</text>
<text transform="translate(461.34 1200.46) rotate(-45.00) scale(0.9850 1)" font-size="36" font-weight="normal" style="font-kerning:none">Post</text>
<line x1="244.3" y1="886.0" x2="244.3" y2="916.4" stroke="#231f20" stroke-width="2.5" stroke-linecap="butt"/><line x1="229.8" y1="886.0" x2="258.8" y2="886.0" stroke="#231f20" stroke-width="2.5" stroke-linecap="butt"/><line x1="229.8" y1="916.4" x2="258.8" y2="916.4" stroke="#231f20" stroke-width="2.5" stroke-linecap="butt"/>
<path d="M237.7 753.2L244.3 739.8L251.0 753.2Z" fill="#76cfe9" stroke="#000" stroke-width="2.6" stroke-linejoin="round"/>
<path d="M237.7 858.9L244.3 845.5L251.0 858.9Z" fill="#76cfe9" stroke="#000" stroke-width="2.6" stroke-linejoin="round"/>
<path d="M237.7 880.1L244.3 866.6L251.0 880.1Z" fill="#76cfe9" stroke="#000" stroke-width="2.6" stroke-linejoin="round"/>
<path d="M217.2 901.2L223.8 887.8L230.5 901.2Z" fill="#76cfe9" stroke="#000" stroke-width="2.6" stroke-linejoin="round"/>
<path d="M231.0 901.2L237.7 887.8L244.3 901.2Z" fill="#76cfe9" stroke="#000" stroke-width="2.6" stroke-linejoin="round"/>
<path d="M244.9 901.2L251.6 887.8L258.2 901.2Z" fill="#76cfe9" stroke="#000" stroke-width="2.6" stroke-linejoin="round"/>
<path d="M258.9 901.2L265.5 887.8L272.1 901.2Z" fill="#76cfe9" stroke="#000" stroke-width="2.6" stroke-linejoin="round"/>
<path d="M223.8 922.4L230.4 909.0L237.1 922.4Z" fill="#76cfe9" stroke="#000" stroke-width="2.6" stroke-linejoin="round"/>
<path d="M237.7 922.4L244.3 909.0L251.0 922.4Z" fill="#76cfe9" stroke="#000" stroke-width="2.6" stroke-linejoin="round"/>
<path d="M251.7 922.4L258.3 909.0L264.9 922.4Z" fill="#76cfe9" stroke="#000" stroke-width="2.6" stroke-linejoin="round"/>
<path d="M231.0 943.5L237.7 930.1L244.3 943.5Z" fill="#76cfe9" stroke="#000" stroke-width="2.6" stroke-linejoin="round"/>
<path d="M244.9 943.5L251.6 930.1L258.2 943.5Z" fill="#76cfe9" stroke="#000" stroke-width="2.6" stroke-linejoin="round"/>
<path d="M237.7 964.7L244.3 951.2L251.0 964.7Z" fill="#76cfe9" stroke="#000" stroke-width="2.6" stroke-linejoin="round"/>
<path d="M237.7 985.8L244.3 972.4L251.0 985.8Z" fill="#76cfe9" stroke="#000" stroke-width="2.6" stroke-linejoin="round"/>
<line x1="312.5" y1="853.4" x2="312.5" y2="898.4" stroke="#231f20" stroke-width="2.5" stroke-linecap="butt"/><line x1="298.0" y1="853.4" x2="327.0" y2="853.4" stroke="#231f20" stroke-width="2.5" stroke-linecap="butt"/><line x1="298.0" y1="898.4" x2="327.0" y2="898.4" stroke="#231f20" stroke-width="2.5" stroke-linecap="butt"/>
<path d="M305.9 710.9L312.5 697.4L319.1 710.9Z" fill="#5b9bd5" stroke="#000" stroke-width="2.6" stroke-linejoin="round"/>
<path d="M305.9 795.5L312.5 782.0L319.1 795.5Z" fill="#5b9bd5" stroke="#000" stroke-width="2.6" stroke-linejoin="round"/>
<path d="M305.9 816.6L312.5 803.2L319.1 816.6Z" fill="#5b9bd5" stroke="#000" stroke-width="2.6" stroke-linejoin="round"/>
<path d="M285.6 858.9L292.2 845.5L298.8 858.9Z" fill="#5b9bd5" stroke="#000" stroke-width="2.6" stroke-linejoin="round"/>
<path d="M305.9 858.9L312.5 845.5L319.1 858.9Z" fill="#5b9bd5" stroke="#000" stroke-width="2.6" stroke-linejoin="round"/>
<path d="M326.7 858.9L333.3 845.5L339.9 858.9Z" fill="#5b9bd5" stroke="#000" stroke-width="2.6" stroke-linejoin="round"/>
<path d="M305.9 880.1L312.5 866.6L319.1 880.1Z" fill="#5b9bd5" stroke="#000" stroke-width="2.6" stroke-linejoin="round"/>
<path d="M295.4 922.4L302.0 909.0L308.6 922.4Z" fill="#5b9bd5" stroke="#000" stroke-width="2.6" stroke-linejoin="round"/>
<path d="M316.2 922.4L322.9 909.0L329.5 922.4Z" fill="#1b9c9c" stroke="#000" stroke-width="2.6" stroke-linejoin="round"/>
<path d="M295.4 943.5L302.0 930.1L308.6 943.5Z" fill="#5b9bd5" stroke="#000" stroke-width="2.6" stroke-linejoin="round"/>
<path d="M316.2 943.5L322.9 930.1L329.5 943.5Z" fill="#5b9bd5" stroke="#000" stroke-width="2.6" stroke-linejoin="round"/>
<path d="M305.9 964.7L312.5 951.2L319.1 964.7Z" fill="#76cfe9" stroke="#000" stroke-width="2.6" stroke-linejoin="round"/>
<path d="M305.9 1007.0L312.5 993.5L319.1 1007.0Z" fill="#5b9bd5" stroke="#000" stroke-width="2.6" stroke-linejoin="round"/>
<rect x="423.4" y="803.1" width="13.2" height="13.2" fill="#ee4823" stroke="#000" stroke-width="2.5"/>
<rect x="435.6" y="803.1" width="13.2" height="13.2" fill="#ee4823" stroke="#000" stroke-width="2.5"/>
<rect x="408.6" y="824.2" width="13.2" height="13.2" fill="#ee4823" stroke="#000" stroke-width="2.5"/>
<rect x="450.4" y="824.2" width="13.2" height="13.2" fill="#ee4823" stroke="#000" stroke-width="2.5"/>
<rect x="429.5" y="824.2" width="13.2" height="13.2" fill="#ee4823" stroke="#000" stroke-width="2.5"/>
<rect x="419.1" y="824.2" width="13.2" height="13.2" fill="#ee4823" stroke="#000" stroke-width="2.5"/>
<rect x="439.9" y="824.2" width="13.2" height="13.2" fill="#ee4823" stroke="#000" stroke-width="2.5"/>
<line x1="435.9" y1="843.9" x2="435.9" y2="861.9" stroke="#231f20" stroke-width="2.5" stroke-linecap="butt"/><line x1="421.4" y1="843.9" x2="450.4" y2="843.9" stroke="#231f20" stroke-width="2.5" stroke-linecap="butt"/><line x1="421.4" y1="861.9" x2="450.4" y2="861.9" stroke="#231f20" stroke-width="2.5" stroke-linecap="butt"/>
<rect x="429.3" y="845.4" width="13.2" height="13.2" fill="#ee4823" stroke="#000" stroke-width="2.5"/>
<rect x="418.8" y="866.6" width="13.2" height="13.2" fill="#ee4823" stroke="#000" stroke-width="2.5"/>
<rect x="439.9" y="866.6" width="13.2" height="13.2" fill="#ee4823" stroke="#000" stroke-width="2.5"/>
<rect x="429.3" y="866.6" width="13.2" height="13.2" fill="#ee4823" stroke="#000" stroke-width="2.5"/>
<rect x="424.0" y="887.7" width="13.2" height="13.2" fill="#ee4823" stroke="#000" stroke-width="2.5"/>
<rect x="435.6" y="887.7" width="13.2" height="13.2" fill="#ee4823" stroke="#000" stroke-width="2.5"/>
<rect x="429.3" y="908.9" width="13.2" height="13.2" fill="#ee4823" stroke="#000" stroke-width="2.5"/>
<line x1="503.7" y1="824.8" x2="503.7" y2="851.2" stroke="#231f20" stroke-width="2.5" stroke-linecap="butt"/><line x1="489.2" y1="824.8" x2="518.2" y2="824.8" stroke="#231f20" stroke-width="2.5" stroke-linecap="butt"/><line x1="489.2" y1="851.2" x2="518.2" y2="851.2" stroke="#231f20" stroke-width="2.5" stroke-linecap="butt"/>
<line x1="503.7" y1="814.0" x2="503.7" y2="826.0" stroke="#231f20" stroke-width="2.5" stroke-linecap="butt"/>
<rect x="497.1" y="676.2" width="13.2" height="13.2" fill="#9e1c24" stroke="#000" stroke-width="2.5"/>
<rect x="497.1" y="697.4" width="13.2" height="13.2" fill="#9e1c24" stroke="#000" stroke-width="2.5"/>
<rect x="497.1" y="739.7" width="13.2" height="13.2" fill="#9e1c24" stroke="#000" stroke-width="2.5"/>
<rect x="490.1" y="803.1" width="13.2" height="13.2" fill="#9e1c24" stroke="#000" stroke-width="2.5"/>
<rect x="504.6" y="803.1" width="13.2" height="13.2" fill="#9e1c24" stroke="#000" stroke-width="2.5"/>
<rect x="476.7" y="824.2" width="13.2" height="13.2" fill="#9e1c24" stroke="#000" stroke-width="2.5"/>
<rect x="490.1" y="824.2" width="13.2" height="13.2" fill="#9e1c24" stroke="#000" stroke-width="2.5"/>
<rect x="504.6" y="824.2" width="13.2" height="13.2" fill="#9e1c24" stroke="#000" stroke-width="2.5"/>
<rect x="518.2" y="824.2" width="13.2" height="13.2" fill="#9e1c24" stroke="#000" stroke-width="2.5"/>
<rect x="497.1" y="845.4" width="13.2" height="13.2" fill="#9e1c24" stroke="#000" stroke-width="2.5"/>
<rect x="497.1" y="887.7" width="13.2" height="13.2" fill="#9e1c24" stroke="#000" stroke-width="2.5"/>
<rect x="497.1" y="951.2" width="13.2" height="13.2" fill="#9e1c24" stroke="#000" stroke-width="2.5"/>
<rect x="497.1" y="972.3" width="13.2" height="13.2" fill="#9e1c24" stroke="#000" stroke-width="2.5"/>
<rect x="624.3" y="679.2" width="47.5" height="25" fill="#76cfe9" stroke="#231f20" stroke-width="1.8"/>
<text transform="translate(682.33 709.4) scale(0.9730 1)" font-size="47" font-weight="normal" style="font-kerning:none">Obese Pre</text>
<rect x="624.3" y="731.6" width="47.5" height="25" fill="#5b9bd5" stroke="#231f20" stroke-width="1.8"/>
<text transform="translate(682.35 761.8) scale(0.9666 1)" font-size="47" font-weight="normal" style="font-kerning:none">Obese Post</text>
<rect x="624.3" y="785.5" width="47.5" height="25" fill="#ee4823" stroke="#231f20" stroke-width="1.8"/>
<text transform="translate(683.07 814.3) scale(0.9712 1)" font-size="47" font-weight="normal" style="font-kerning:none">T2D Pre</text>
<rect x="624.3" y="835.8000000000001" width="47.5" height="25" fill="#9e1c24" stroke="#231f20" stroke-width="1.8"/>
<text transform="translate(683.08 866.7) scale(0.9671 1)" font-size="47" font-weight="normal" style="font-kerning:none">T2D Post</text>
</svg>
</body></html>
